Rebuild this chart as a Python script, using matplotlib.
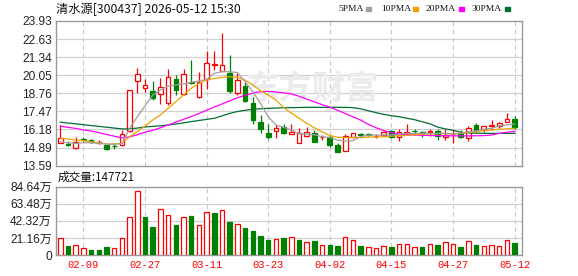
import numpy as np
import matplotlib
matplotlib.use('Agg')
import matplotlib.pyplot as plt
from matplotlib.patches import Rectangle

plt.rcParams['font.family'] = ['Liberation Sans', 'Noto Sans CJK SC']

# ---- data ----
OPEN = [15.23, 15.15, 14.88, 15.48, 15.40, 15.22, 15.07, 15.00, 15.07, 16.07,
        19.66, 19.17, 18.93, 18.71, 18.04, 19.76, 18.71, 19.57, 18.52, 19.76,
        20.79, 20.38, 20.19, 18.76, 19.31, 18.05, 16.69, 15.92, 16.07, 16.38,
        15.83, 15.23, 15.71, 15.90, 15.62, 15.66, 15.07, 14.66, 15.61, 15.83,
        15.85, 15.68, 15.78, 16.07, 15.61, 15.93, 16.08, 15.99, 15.97, 16.07,
        15.61, 15.85, 15.95, 15.54, 16.50, 16.19, 16.43, 16.43, 16.74, 16.93]
HIGH = [16.47, 15.35, 15.66, 15.61, 15.52, 15.42, 15.07, 15.24, 16.14, 19.00,
        20.55, 19.76, 19.64, 19.83, 20.48, 20.07, 20.48, 21.15, 20.26, 21.79,
        21.79, 23.10, 21.50, 20.19, 19.59, 18.52, 17.21, 16.60, 16.50, 16.55,
        16.60, 16.26, 16.33, 16.14, 15.78, 15.78, 15.23, 15.85, 15.95, 15.90,
        15.90, 15.85, 16.09, 16.14, 16.19, 16.57, 16.19, 16.09, 16.19, 16.19,
        16.19, 16.14, 16.14, 16.43, 16.67, 16.43, 16.86, 16.74, 17.33, 17.14]
LOW = [15.18, 14.98, 14.80, 15.33, 15.19, 15.14, 14.74, 14.76, 15.02, 15.98,
       18.76, 18.88, 18.28, 17.97, 17.90, 18.64, 18.64, 19.40, 18.45, 19.05,
       20.43, 20.38, 18.81, 18.64, 18.16, 16.57, 15.95, 15.52, 15.54, 15.83,
       15.83, 15.23, 15.66, 15.30, 15.42, 14.95, 14.54, 14.66, 15.55, 15.55,
       15.71, 15.54, 15.71, 15.54, 15.38, 15.78, 15.78, 15.61, 15.71, 15.42,
       15.45, 15.23, 15.54, 15.38, 16.02, 16.02, 16.14, 16.26, 16.74, 16.19]
CLOSE = [15.57, 15.10, 15.30, 15.44, 15.25, 15.26, 14.76, 14.97, 15.83, 18.98,
         20.12, 19.36, 18.40, 19.19, 19.90, 19.00, 20.12, 19.47, 19.59, 20.92,
         20.83, 20.79, 18.93, 19.71, 18.24, 16.85, 16.19, 15.66, 16.31, 15.90,
         16.02, 15.90, 16.02, 15.30, 15.66, 15.07, 14.59, 15.73, 15.90, 15.78,
         15.80, 15.73, 15.97, 15.61, 15.97, 15.97, 16.05, 15.95, 16.09, 15.71,
         15.78, 15.88, 15.66, 16.26, 16.09, 16.43, 16.47, 16.62, 16.93, 16.38]

MA5 = [15.30, 15.23, 15.18, 15.23, 15.23, 15.18, 15.14, 15.11, 15.18, 16.26,
       17.09, 17.86, 18.64, 19.00, 19.28, 19.36, 19.43, 19.55, 19.64, 19.76,
       20.19, 20.31, 20.31, 20.24, 19.59, 18.88, 18.04, 17.09, 16.50, 16.33,
       16.14, 15.90, 15.85, 15.80, 15.66, 15.61, 15.42, 15.35, 15.38, 15.66,
       15.78, 15.78, 15.78, 15.78, 15.83, 15.90, 15.90, 15.90, 15.90, 15.90,
       15.90, 15.85, 15.90, 16.02, 16.07, 16.19, 16.26, 16.43, 16.50, 16.57]
MA10 = [15.54, 15.50, 15.42, 15.38, 15.30, 15.23, 15.14, 15.14, 15.18, 15.66,
        16.02, 16.42, 16.85, 17.21, 17.69, 18.16, 18.64, 19.12, 19.47, 19.71,
        19.83, 19.90, 19.95, 19.90, 19.70, 19.36, 18.95, 18.64, 18.28, 17.75,
        17.35, 16.98, 16.62, 16.30, 16.00, 15.75, 15.62, 15.60, 15.60, 15.62,
        15.62, 15.64, 15.66, 15.70, 15.73, 15.76, 15.80, 15.84, 15.86, 15.88,
        15.88, 15.88, 15.90, 15.95, 16.03, 16.09, 16.14, 16.19, 16.23, 16.26]
MA20 = [16.42, 16.33, 16.26, 16.14, 16.07, 15.95, 15.82, 15.70, 15.58, 15.65,
        15.80, 15.98, 16.12, 16.30, 16.50, 16.70, 16.90, 17.10, 17.32, 17.55,
        17.78, 18.00, 18.22, 18.45, 18.62, 18.78, 18.88, 18.90, 18.86, 18.80,
        18.72, 18.55, 18.35, 18.15, 17.95, 17.78, 17.55, 17.32, 17.08, 16.85,
        16.55, 16.30, 16.10, 15.95, 15.85, 15.80, 15.78, 15.76, 15.75, 15.74,
        15.73, 15.72, 15.72, 15.72, 15.73, 15.74, 15.78, 15.90, 15.98, 16.05]
MA30 = [16.70, 16.64, 16.58, 16.52, 16.46, 16.40, 16.34, 16.28, 16.22, 16.22,
        16.28, 16.36, 16.40, 16.44, 16.50, 16.57, 16.65, 16.74, 16.82, 16.90,
        16.98, 17.15, 17.33, 17.46, 17.55, 17.62, 17.66, 17.69, 17.71, 17.73,
        17.74, 17.75, 17.76, 17.76, 17.76, 17.76, 17.76, 17.76, 17.74, 17.65,
        17.52, 17.38, 17.26, 17.16, 17.09, 16.98, 16.88, 16.73, 16.58, 16.35,
        16.22, 16.12, 15.98, 15.93, 15.91, 15.90, 15.90, 15.90, 15.90, 15.90]

# volume in 万 shares, colour flag 1 = up (red), 0 = down (green)
VOL = [20.6, 11.1, 12.0, 8.3, 5.8, 5.8, 9.9, 8.3, 20.6, 46.7,
       79.3, 47.1, 34.7, 56.6, 49.1, 37.2, 46.7, 48.3, 36.7, 52.9,
       52.0, 55.3, 40.9, 38.0, 33.4, 29.7, 23.5, 18.6, 19.4, 21.1,
       21.9, 18.6, 16.1, 17.3, 12.4, 12.4, 11.1, 21.9, 18.2, 11.1,
       9.9, 8.3, 10.7, 9.9, 13.2, 13.2, 9.9, 9.9, 13.2, 12.4,
       15.7, 13.2, 9.9, 16.9, 12.4, 11.1, 12.4, 11.1, 18.2, 14.7721]
VOL_UP = [1, 0, 1, 1, 0, 0, 0, 1, 1, 1, 1, 0, 0, 1, 1, 0, 1, 0, 1, 1,
          0, 1, 0, 1, 0, 0, 0, 0, 1, 0, 1, 0, 1, 0, 1, 0, 0, 1, 1, 0,
          1, 1, 1, 0, 1, 1, 1, 0, 1, 0, 1, 1, 0, 1, 0, 1, 1, 1, 1, 0]

PRICE_TICKS = [13.59, 14.89, 16.18, 17.47, 18.76, 20.05, 21.34, 22.63, 23.93]
PRICE_LABELS = ['13.59', '14.89', '16.18', '17.47', '18.76', '20.05', '21.34', '22.63', '23.93']
VOL_TICKS = [0, 21.16, 42.32, 63.48, 84.64]
VOL_LABELS = ['0', '21.16万', '42.32万', '63.48万', '84.64万']
DATE_IDX = [3, 11, 19, 27, 35, 43, 51, 59]
DATE_LABELS = ['02-09', '02-27', '03-11', '03-23', '04-02', '04-15', '04-27', '05-12']

TITLE = '清水源[300437] 2026-05-12 15:30'
VOL_TITLE = '成交量:147721'
MA_NAMES = ['5PMA', '10PMA', '20PMA', '30PMA']
MA_COLORS = ['#a0a0a0', '#f0a000', '#ff00ff', '#006e32']

RED = '#ff0000'
GREEN = '#008000'
GRID = '#d0d0d0'
FRAME = '#999999'

W, H = 578, 276
fig = plt.figure(figsize=(W / 100, H / 100), dpi=100)
fig.patch.set_facecolor('white')

def fx(px):
    return px / W

def fy(py):
    return 1 - py / H

ax = fig.add_axes([fx(56), fy(165.7), fx(466), 144.7 / H])
axv = fig.add_axes([fx(56), fy(255), fx(466), 68.3 / H])

x = np.arange(len(CLOSE))
o = np.array(OPEN); c = np.array(CLOSE); h = np.array(HIGH); l = np.array(LOW)
up = c >= o

for a in (ax, axv):
    a.set_xlim(-0.56, 59.96)
    for s in a.spines.values():
        s.set_color(FRAME)
        s.set_linewidth(1.0)
    a.tick_params(length=0, pad=3, labelsize=8.6, colors='#222222')
    a.set_xticks([])
    for d in DATE_IDX:
        a.axvline(d, color='#c8c8c8', lw=0.8, ls=(0, (4, 3)), zorder=0)

# ---- price panel ----
ax.set_ylim(PRICE_TICKS[0], PRICE_TICKS[-1])
ax.set_yticks(PRICE_TICKS)
ax.set_yticklabels(PRICE_LABELS)
for t in PRICE_TICKS[1:-1]:
    ax.axhline(t, color=GRID, lw=0.9, zorder=0)

ax.text(0.549, 0.52, '东方财富', transform=ax.transAxes, ha='center', va='center',
        fontsize=24, fontweight='bold', color='#ebebee', family='Noto Sans CJK SC', zorder=0.5)

cols = np.where(up, RED, GREEN)
ax.vlines(x, l, h, colors=cols, lw=0.9, zorder=2)
body = np.maximum(np.abs(c - o), 0.015)
ax.bar(x, body, bottom=np.minimum(o, c), width=0.6,
       color=np.where(up, 'white', GREEN), edgecolor=cols, linewidth=0.9, zorder=3)

for ma, col in zip([MA30, MA20, MA10, MA5], MA_COLORS[::-1]):
    ax.plot(x, ma, color=col, lw=0.9, zorder=4)

# ---- volume panel ----
axv.set_ylim(VOL_TICKS[0], VOL_TICKS[-1])
axv.set_yticks(VOL_TICKS)
axv.set_yticklabels(VOL_LABELS)
for t in VOL_TICKS[1:-1]:
    axv.axhline(t, color=GRID, lw=0.9, zorder=0)
vup = np.array(VOL_UP) == 1
axv.bar(x, VOL, width=0.58, color=np.where(vup, 'white', GREEN),
        edgecolor=np.where(vup, RED, GREEN), linewidth=0.9, zorder=3)

for d, lab in zip(DATE_IDX, DATE_LABELS):
    axv.text(d, -0.15, lab, transform=axv.get_xaxis_transform(), ha='center', va='center',
             fontsize=7.6, color=RED, family='Liberation Mono')

# ---- texts ----
fig.text(fx(56), fy(9), TITLE, ha='left', va='center', fontsize=8.8,
         family=['Noto Sans CJK SC', 'DejaVu Sans'], color='#111111')
fig.text(fx(58), fy(177.5), VOL_TITLE, ha='left', va='center', fontsize=8.4,
         family=['Noto Sans CJK SC', 'DejaVu Sans'], color='#111111')

leg_x = [338.3, 380.7, 425.7, 471.7]
sq_x = [366, 413.3, 459.3, 505]
for name, col, tx, sx in zip(MA_NAMES, MA_COLORS, leg_x, sq_x):
    fig.text(fx(tx), fy(9), name, ha='left', va='center', fontsize=6.8,
             family='Liberation Serif', color='#111111')
    fig.patches.append(Rectangle((fx(sx), fy(10.8)), fx(5), 3.8 / H,
                                 transform=fig.transFigure, color=col, figure=fig))

fig.savefig('out.png', dpi=100)
